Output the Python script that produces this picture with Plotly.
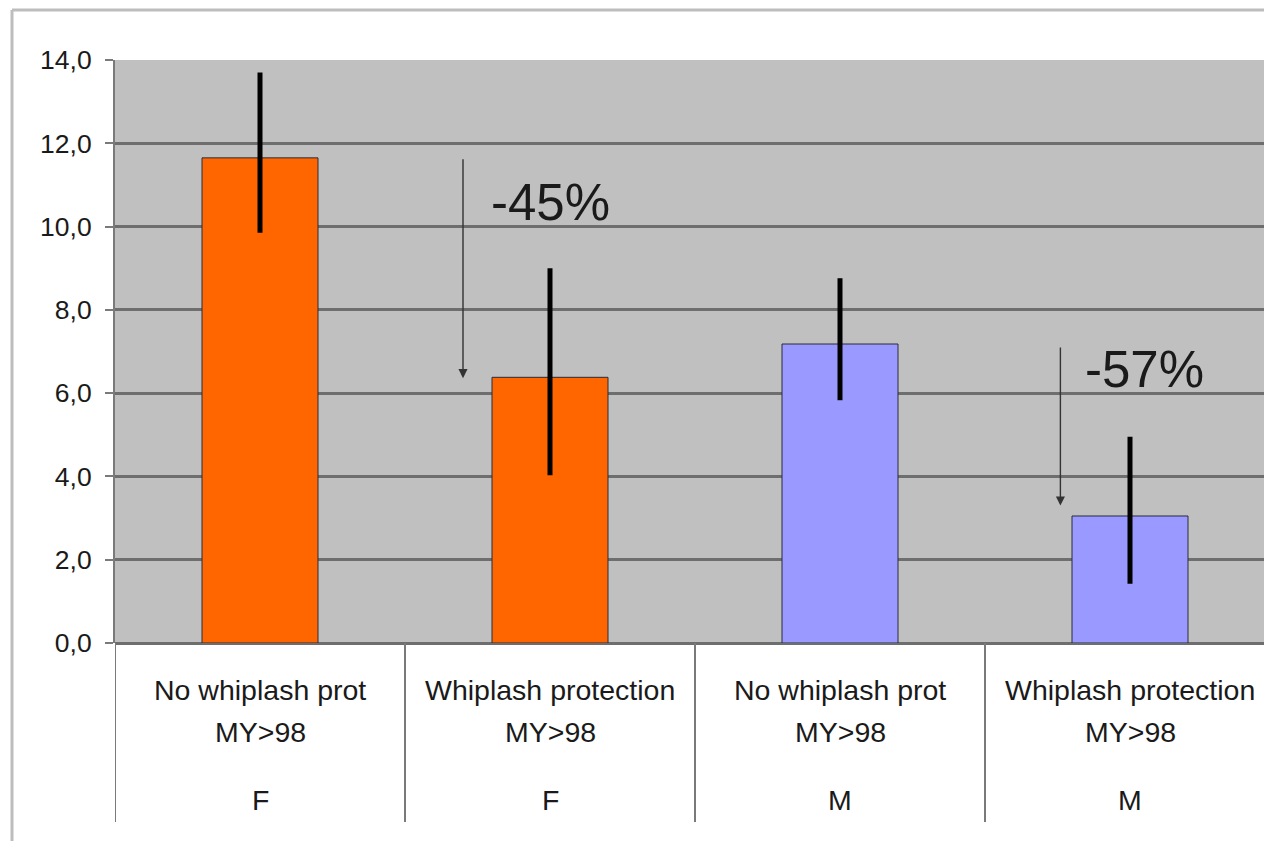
import plotly.graph_objects as go

# ---- data ----
categories = ["No whiplash prot F", "Whiplash protection F", "No whiplash prot M", "Whiplash protection M"]
label_line1 = ["No whiplash prot", "Whiplash protection", "No whiplash prot", "Whiplash protection"]
label_line2 = ["MY>98", "MY>98", "MY>98", "MY>98"]
label_line3 = ["F", "F", "M", "M"]
values = [11.65, 6.38, 7.18, 3.05]
err_plus = [2.05, 2.62, 1.58, 1.90]
err_minus = [1.80, 2.35, 1.35, 1.63]
bar_colors = ["#FF6600", "#FF6600", "#9999FF", "#9999FF"]
tick_vals = [0, 2, 4, 6, 8, 10, 12, 14]
tick_text = ["0,0", "2,0", "4,0", "6,0", "8,0", "10,0", "12,0", "14,0"]
reductions = ["-45%", "-57%"]

FONT = "Liberation Sans, Arial, sans-serif"
xs = list(range(len(categories)))

# page offset (body margin) compensation
OFF = 8
FIG_W, FIG_H = 1272 - 2 * OFF, 849 - 2 * OFF
PL, PT, PB = 115 - OFF, 60 - OFF, 643 - OFF   # plot left/top/bottom in figure px
PR = FIG_W                                     # plot right edge
W = PR - PL
H = PB - PT
CAT_W = 290.0                                  # pixel width of one category in the reference
X_MAX = -0.5 + W / CAT_W


def py2paper(py):
    return (PB - (py - OFF)) / H


def px2paper(px):
    return ((px - OFF) - PL) / W


fig = go.Figure()
fig.add_trace(go.Bar(
    x=xs, y=values, width=0.40,
    marker=dict(color=bar_colors, line=dict(color="#2a2a3a", width=1)),
    error_y=dict(type="data", symmetric=False, array=err_plus, arrayminus=err_minus,
                 color="#000000", thickness=5, width=0),
    showlegend=False, hoverinfo="y",
))

# arrows showing reduction
arrow_specs = [(0.70, values[0], values[1] - 0.02), (2.76, values[2] - 0.05, values[3] + 0.25)]
for (ax_x, y_from, y_to) in arrow_specs:
    fig.add_annotation(x=ax_x, y=y_to, ax=ax_x, ay=y_from, xref="x", yref="y",
                       axref="x", ayref="y", showarrow=True, arrowhead=2,
                       arrowsize=1.3, arrowwidth=1.4, arrowcolor="#333333", text="")

# reduction labels
fig.add_annotation(x=1.0, y=10.57, xref="x", yref="y", text=reductions[0], showarrow=False,
                   font=dict(family=FONT, size=51, color="#1a1a1a"))
fig.add_annotation(x=3.05, y=6.56, xref="x", yref="y", text=reductions[1], showarrow=False,
                   font=dict(family=FONT, size=51, color="#1a1a1a"))

# category labels below axis
for i in xs:
    for txt, py in ((label_line1[i], 690), (label_line2[i], 732), (label_line3[i], 800)):
        fig.add_annotation(x=i, y=py2paper(py), xref="x", yref="paper", text=txt,
                           showarrow=False, yanchor="middle",
                           font=dict(family=FONT, size=28.5, color="#1a1a1a"))

# category separators
for b in [-0.5, 0.5, 1.5, 2.5]:
    fig.add_shape(type="line", x0=b, x1=b, xref="x", y0=0, y1=py2paper(822), yref="paper",
                  line=dict(color="#7a7a7a", width=2))

# outer chart frame (top and left)
fig.add_shape(type="line", xref="paper", yref="paper", x0=px2paper(12), x1=px2paper(1272),
              y0=py2paper(10), y1=py2paper(10), line=dict(color="#bdbdbd", width=3))
fig.add_shape(type="line", xref="paper", yref="paper", x0=px2paper(12), x1=px2paper(12),
              y0=py2paper(10), y1=py2paper(849), line=dict(color="#bdbdbd", width=3))

fig.update_layout(
    width=FIG_W, height=FIG_H,
    margin=dict(l=PL, r=0, t=PT, b=FIG_H - PB),
    paper_bgcolor="white", plot_bgcolor="#C0C0C0",
    bargap=0.6,
    xaxis=dict(range=[-0.5, X_MAX], showticklabels=False, showgrid=False, zeroline=False,
               showline=False, fixedrange=True),
    yaxis=dict(range=[0, 14], tickvals=tick_vals, ticktext=tick_text,
               showgrid=True, gridcolor="#6e6e6e", gridwidth=3,
               zeroline=True, zerolinecolor="#6e6e6e", zerolinewidth=3,
               showline=True, linecolor="#7a7a7a", linewidth=2,
               ticks="outside", ticklen=8, tickcolor="#7a7a7a", tickwidth=2,
               ticklabelstandoff=8,
               tickfont=dict(family=FONT, size=26.5, color="#1a1a1a"), fixedrange=True),
)

fig.write_html("out.html")
